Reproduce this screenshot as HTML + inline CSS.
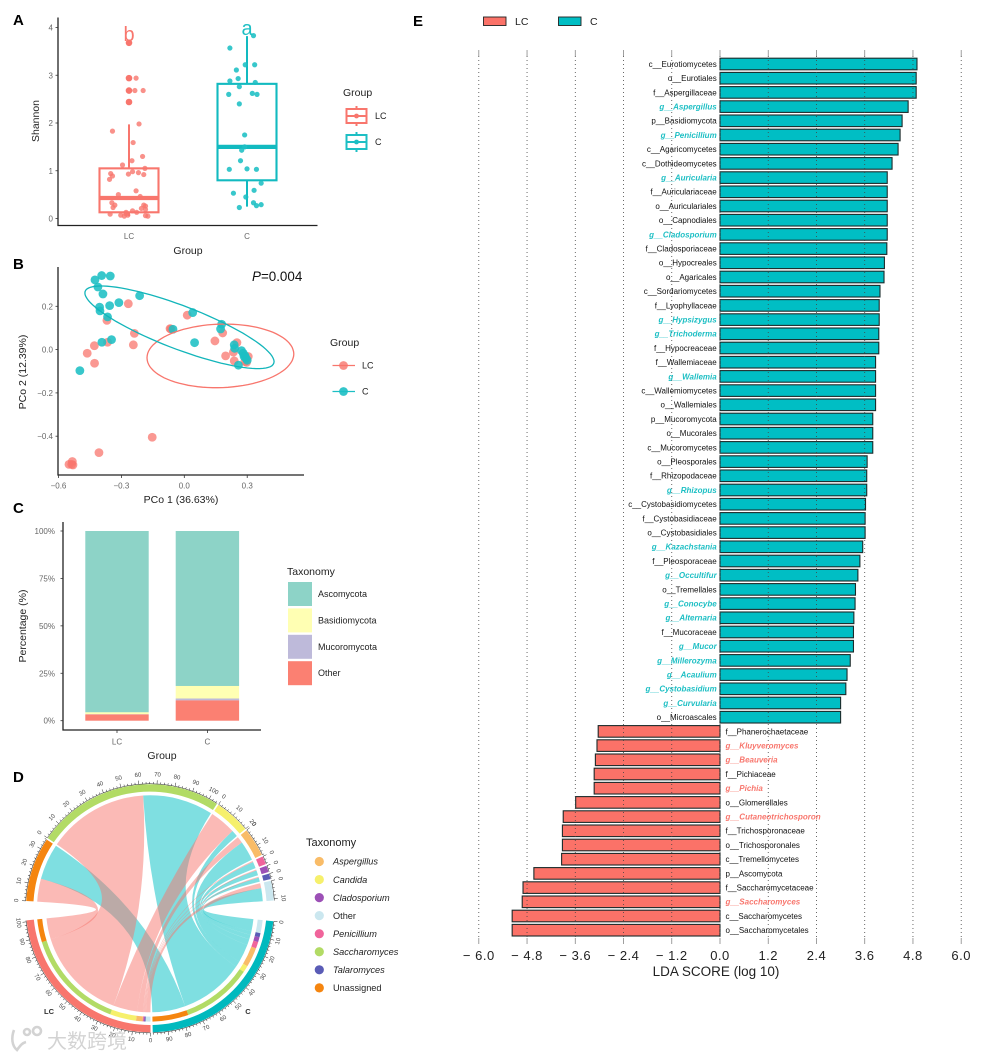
<!DOCTYPE html>
<html lang="en">
<head>
<meta charset="utf-8">
<title>Fungal community composition panels</title>
<style>
  html, body { margin: 0; padding: 0; background: #fff; }
  body { width: 985px; height: 1056px; overflow: hidden; }
  svg { display: block; font-family: "Liberation Sans", "Noto Sans CJK SC", sans-serif; filter: blur(.3px); }
  .panel-letter { font-size: 15px; font-weight: bold; fill: #000; }
  .tick { font-size: 8px; fill: #666; }
  .title { font-size: 10.5px; fill: #222; }
  .legend-title { font-size: 10.5px; fill: #222; }
  .legend-label { font-size: 9px; fill: #222; }
  .axis { stroke: #222; stroke-width: 1.3; fill: none; }
  .axis-tick { stroke: #333; stroke-width: .8; }
</style>
</head>
<body>
<svg id="figure" width="985" height="1056" viewBox="0 0 985 1056" xmlns="http://www.w3.org/2000/svg">
  <text class="panel-letter" x="13" y="25">A</text>
  <text class="panel-letter" x="13" y="269">B</text>
  <text class="panel-letter" x="13" y="513">C</text>
  <text class="panel-letter" x="13" y="782">D</text>
  <text class="panel-letter" x="413" y="26">E</text>

  <!-- Panel A -->
  <g id="panelA">
    <path class="axis" d="M58 17.5V225.5H317.5"/>
    <text class="title" x="188" y="254" text-anchor="middle">Group</text>
    <text class="title" transform="translate(39 121) rotate(-90)" text-anchor="middle">Shannon</text>
    <text x="129" y="41" text-anchor="middle" font-size="20" fill="#F8766D">b</text>
    <text x="247" y="35" text-anchor="middle" font-size="20" fill="#1DBFC4">a</text>
    <g>
      <text class="legend-title" x="343" y="96">Group</text>
      <g fill="none" stroke="#F8766D" stroke-width="2">
        <path d="M356.5 106V109M356.5 123V126"/><rect x="346.5" y="109" width="20" height="14"/><path d="M346.5 116H366.5"/><circle cx="356.5" cy="116" r="2.4" fill="#F8766D" stroke="none"/>
      </g>
      <text class="legend-label" x="375" y="119">LC</text>
      <g fill="none" stroke="#1DBFC4" stroke-width="2">
        <path d="M356.5 132V135M356.5 149V152"/><rect x="346.5" y="135" width="20" height="14"/><path d="M346.5 142H366.5"/><circle cx="356.5" cy="142" r="2.4" fill="#1DBFC4" stroke="none"/>
      </g>
      <text class="legend-label" x="375" y="145">C</text>
    </g>
  </g>

  <!-- Panel B -->
  <g id="panelB">
    <path class="axis" d="M58 267V475H304"/>
    <text class="title" x="181" y="503" text-anchor="middle">PCo 1 (36.63%)</text>
    <text class="title" transform="translate(26 372) rotate(-90)" text-anchor="middle">PCo 2 (12.39%)</text>
    <text x="252" y="281" font-size="13.4" fill="#111"><tspan font-style="italic">P</tspan>=0.004</text>
    <g>
      <text class="legend-title" x="330" y="346">Group</text>
      <path d="M332.5 365.5H355" stroke="#F8766D" stroke-width="1.3"/>
      <circle cx="343.5" cy="365.5" r="4.4" fill="#F8766D" fill-opacity=".8"/>
      <text class="legend-label" x="362" y="368.5">LC</text>
      <path d="M332.5 391.5H355" stroke="#1DBFC4" stroke-width="1.3"/>
      <circle cx="343.5" cy="391.5" r="4.4" fill="#1DBFC4" fill-opacity=".9"/>
      <text class="legend-label" x="362" y="394.5">C</text>
    </g>
  </g>

  <!-- Panel C -->
  <g id="panelC">
    <path class="axis" d="M63 522V730H261"/>
    <text class="title" x="162" y="759" text-anchor="middle">Group</text>
    <text class="title" transform="translate(26 626) rotate(-90)" text-anchor="middle">Percentage (%)</text>
    <g id="phylumLegend">
      <text class="legend-title" x="287" y="575">Taxonomy</text>
    </g>
  </g>

  <!-- Panel D -->
  <g id="panelD">
    <text x="49" y="1014" text-anchor="middle" font-size="7.5" font-weight="bold" fill="#333">LC</text>
    <text x="248" y="1014" text-anchor="middle" font-size="7.5" font-weight="bold" fill="#333">C</text>
    <g id="chordLegend">
      <text x="306" y="846" font-size="11" fill="#222">Taxonomy</text>
    </g>
  </g>

  <!-- Panel E -->
  <g id="panelE">
    <g>
      <rect x="483.5" y="17" width="22.5" height="8.5" fill="#FB7268" stroke="#222" stroke-width=".9"/>
      <text x="515" y="25" font-size="10.5" fill="#222">LC</text>
      <rect x="558.5" y="17" width="22.5" height="8.5" fill="#00BEC4" stroke="#222" stroke-width=".9"/>
      <text x="590" y="25" font-size="10.5" fill="#222">C</text>
    </g>
    <text x="716" y="976" text-anchor="middle" font-size="13.5" fill="#222">LDA SCORE (log 10)</text>
  </g>

  <!-- Watermark -->
  <g opacity=".9">
    <g fill="none" stroke="#cfcfcf" stroke-width="2.6">
      <path d="M14 1030C11 1038 12 1046 17 1050C20 1046 22 1043 26 1042"/>
      <circle cx="27" cy="1032" r="3"/><circle cx="37" cy="1031" r="4"/>
    </g>
    <text x="47" y="1048" font-size="20" fill="#cfcfcf" style="font-family:'Liberation Sans','Noto Sans CJK SC',sans-serif">大数跨境</text>
  </g>
</svg>

<script>
/* ---------- Panel A data ---------- */
const shannonGroups = ['LC', 'C'];
const shannonTicks = [0, 1, 2, 3, 4];
const shannonQ1 = [0.13, 0.80];
const shannonMedian = [0.43, 1.50];
const shannonQ3 = [1.05, 2.82];
const shannonWhiskerLow = [0.05, 0.25];
const shannonWhiskerHigh = [1.97, 3.82];
const lcOutliers = [3.68, 2.94, 2.68, 2.44];
const lcJitter = [0,0,.06,0,.05,.12,0,.085,-.14,.035,.115,.025,-.055,.135,.03,.08,.125,-.005,-.155,-.14,-.165,.06,-.09,.095,-.145,-.12,-.135,.125,.14,.105,.14,.03,.065,-.025,-.07,-.04,-.01,-.16,.14,.16,-.025];
const lcShannon = [3.68,2.94,2.94,2.68,2.68,2.68,2.44,1.98,1.83,1.59,1.3,1.21,1.12,1.05,.98,.96,.92,.93,.94,.89,.82,.58,.5,.46,.33,.28,.23,.28,.26,.21,.19,.16,.13,.13,.07,.05,.07,.09,.06,.05,.1];
const cJitter = [.055,-.145,-.015,.065,-.09,-.075,-.145,.07,-.065,-.155,.045,.085,-.065,-.02,-.02,-.045,-.055,-.15,0,.08,.12,.06,-.115,-.01,.055,.12,.08,-.065];
const cShannon = [3.83,3.57,3.22,3.22,3.11,2.93,2.88,2.85,2.76,2.6,2.62,2.6,2.4,1.75,1.5,1.43,1.21,1.03,1.04,1.03,.74,.59,.53,.45,.33,.29,.27,.23];

/* ---------- Panel B data ---------- */
const pcoaXTicks = [-0.6, -0.3, 0, 0.3];
const pcoaYTicks = [-0.4, -0.2, 0, 0.2];
const lcPco1 = [-.267,.014,-.068,-.238,-.369,-.243,-.366,-.429,-.463,-.428,.183,.146,.251,.234,.197,.238,.305,.289,.297,-.153,-.407,-.55,-.534,-.531,-.537,-.064];
const lcPco2 = [.212,.159,.097,.075,.135,.022,.034,.018,-.017,-.063,.077,.04,.032,-.012,-.029,-.052,-.032,-.055,-.059,-.405,-.476,-.53,-.517,-.533,-.53,.095];
const cPco1 = [-.394,-.353,-.426,-.412,-.388,-.213,-.312,-.356,-.404,-.402,-.366,.04,.178,.173,-.054,.049,-.347,-.393,-.498,.238,.24,.273,.281,.289,.294,.3,.258,.285];
const cPco2 = [.342,.34,.322,.289,.257,.249,.217,.203,.196,.179,.151,.171,.117,.095,.094,.032,.046,.034,-.097,.022,.006,-.005,-.017,-.028,-.04,-.049,-.072,-.032];
const lcEllipse = [0.172, -0.029, 0.350, 0.147, 0.06];   /* mean x, mean y, half-range x, half-range y, correlation */
const cEllipse = [-0.023, 0.103, 0.451, 0.191, -0.83];

/* ---------- Panel C data ---------- */
const phylumGroups = ['LC', 'C'];
const phylumNames = ['Ascomycota', 'Basidiomycota', 'Mucoromycota', 'Other'];
const phylumColors = ['#8DD3C7', '#FFFFB3', '#BEBADA', '#FB8072'];
const phylumTicks = [0, 25, 50, 75, 100];
const lcPhylum = [95.6, 1.0, 0.1, 3.3];
const cPhylum = [81.7, 6.6, 1.0, 10.7];

/* ---------- Panel D data ---------- */
const chordTaxa = ['Unassigned', 'Saccharomyces', 'Candida', 'Aspergillus', 'Penicillium', 'Cladosporium', 'Talaromyces', 'Other'];
const chordColors = ['#F5850F', '#B2DB65', '#F6F06C', '#F9BC68', '#F0649B', '#9C50B6', '#5A5CB6', '#CBE7EF'];
const chordToLC = [14, 62, 16, 4, 0.6, 0.6, 0.6, 3];
const chordToC = [22, 43, 4, 12, 4, 3, 2.5, 8];
const chordLegendOrder = ['Aspergillus', 'Candida', 'Cladosporium', 'Other', 'Penicillium', 'Saccharomyces', 'Talaromyces', 'Unassigned'];

/* ---------- Panel E data ---------- */
const ldaTicks = [-6, -4.8, -3.6, -2.4, -1.2, 0, 1.2, 2.4, 3.6, 4.8, 6];
const ldaTaxa = ['c__Eurotiomycetes','o__Eurotiales','f__Aspergillaceae','g__Aspergillus','p__Basidiomycota','g__Penicillium','c__Agaricomycetes','c__Dothideomycetes','g__Auricularia','f__Auriculariaceae','o__Auriculariales','o__Capnodiales','g__Cladosporium','f__Cladosporiaceae','o__Hypocreales','o__Agaricales','c__Sordariomycetes','f__Lyophyllaceae','g__Hypsizygus','g__Trichoderma','f__Hypocreaceae','f__Wallemiaceae','g__Wallemia','c__Wallemiomycetes','o__Wallemiales','p__Mucoromycota','o__Mucorales','c__Mucoromycetes','o__Pleosporales','f__Rhizopodaceae','g__Rhizopus','c__Cystobasidiomycetes','f__Cystobasidiaceae','o__Cystobasidiales','g__Kazachstania','f__Pleosporaceae','g__Occultifur','o__Tremellales','g__Conocybe','g__Alternaria','f__Mucoraceae','g__Mucor','g__Millerozyma','g__Acaulium','g__Cystobasidium','g__Curvularia','o__Microascales','f__Phanerochaetaceae','g__Kluyveromyces','g__Beauveria','f__Pichiaceae','g__Pichia','o__Glomerellales','g__Cutaneotrichosporon','f__Trichosporonaceae','o__Trichosporonales','c__Tremellomycetes','p__Ascomycota','f__Saccharomycetaceae','g__Saccharomyces','c__Saccharomycetes','o__Saccharomycetales'];
const ldaScores = [4.9,4.88,4.88,4.68,4.53,4.48,4.43,4.28,4.16,4.16,4.16,4.16,4.16,4.15,4.09,4.08,3.98,3.96,3.96,3.95,3.95,3.87,3.87,3.87,3.87,3.8,3.8,3.8,3.66,3.65,3.65,3.62,3.61,3.61,3.55,3.48,3.43,3.37,3.36,3.33,3.32,3.32,3.24,3.16,3.13,3,3,-3.03,-3.06,-3.1,-3.13,-3.13,-3.59,-3.9,-3.92,-3.92,-3.94,-4.63,-4.9,-4.92,-5.17,-5.17];

const SVGNS = 'http://www.w3.org/2000/svg';
const LC_COLOR = '#F8766D';
const C_COLOR = '#1DBFC4';
function add(parent, tag, attrs, text) {
  const el = document.createElementNS(SVGNS, tag);
  for (const k in attrs) el.setAttribute(k, attrs[k]);
  if (text !== undefined) el.textContent = text;
  parent.appendChild(el);
  return el;
}
const slug = s => String(s).toLowerCase().replace(/[^a-z0-9]+/g, '-');

/* ---------- Panel A ---------- */
(function () {
  const g = document.getElementById('panelA');
  const xA = (i, off) => 129 + (i + (off || 0)) * 118;
  const yA = v => 218.5 - v * 47.75;
  const boxHalf = 0.25;
  shannonTicks.forEach(t => {
    const tk = add(g, 'line', { class: 'axis-tick', x1: 55.5, x2: 58, y1: yA(t), y2: yA(t) });
    
    
    const lb = add(g, 'text', { class: 'tick', x: 53, y: yA(t) + 3, 'text-anchor': 'end' }, t);
    
    
  });
  shannonGroups.forEach((name, i) => {
    const color = i === 0 ? LC_COLOR : '#12BAC0';
    const lb = add(g, 'text', { class: 'tick', x: xA(i), y: 239, 'text-anchor': 'middle' }, name);
    
    
    const wh = add(g, 'path', {
      d: 'M' + xA(i) + ' ' + yA(shannonQ3[i]) + 'V' + yA(shannonWhiskerHigh[i]) + 'M' + xA(i) + ' ' + yA(shannonQ1[i]) + 'V' + yA(shannonWhiskerLow[i]),
      stroke: color, 'stroke-width': 2, fill: 'none'
    });
    
    
    const box = add(g, 'rect', {
      x: xA(i, -boxHalf), y: yA(shannonQ3[i]), width: xA(i, boxHalf) - xA(i, -boxHalf),
      height: yA(shannonQ1[i]) - yA(shannonQ3[i]), fill: 'none', stroke: color, 'stroke-width': 2.1
    });
    
    
    const med = add(g, 'line', {
      x1: xA(i, -boxHalf), x2: xA(i, boxHalf), y1: yA(shannonMedian[i]), y2: yA(shannonMedian[i]),
      stroke: color, 'stroke-width': 4.2
    });
    
    
  });
  lcOutliers.forEach(v => {
    const c = add(g, 'circle', { cx: xA(0), cy: yA(v), r: 3.3, fill: LC_COLOR });
    
    
  });
  lcShannon.forEach((v, i) => {
    const c = add(g, 'circle', { cx: xA(0, lcJitter[i]), cy: yA(v), r: 2.6, fill: LC_COLOR, 'fill-opacity': .8 });
    
    
  });
  cShannon.forEach((v, i) => {
    const c = add(g, 'circle', { cx: xA(1, cJitter[i]), cy: yA(v), r: 2.6, fill: C_COLOR, 'fill-opacity': .88 });
    
    
  });
})();

/* ---------- Panel B ---------- */
(function () {
  const g = document.getElementById('panelB');
  const xB = v => 184.3 + v * 209.7;
  const yB = v => 349.6 - v * 216.5;
  const fmt = v => (v < 0 ? '\u2212' : '') + Math.abs(v).toFixed(1);
  pcoaXTicks.forEach(t => {
    const tk = add(g, 'line', { class: 'axis-tick', x1: xB(t), x2: xB(t), y1: 475, y2: 478 });
    
    
    const lb = add(g, 'text', { class: 'tick', x: xB(t), y: 488.5, 'text-anchor': 'middle' }, fmt(t));
    
    
  });
  pcoaYTicks.forEach(t => {
    const tk = add(g, 'line', { class: 'axis-tick', x1: 55.5, x2: 58, y1: yB(t), y2: yB(t) });
    
    
    const lb = add(g, 'text', { class: 'tick', x: 53, y: yB(t) + 3, 'text-anchor': 'end' }, fmt(t));
    
    
  });
  lcPco1.forEach((v, i) => {
    const c = add(g, 'circle', { cx: xB(v), cy: yB(lcPco2[i]), r: 4.4, fill: LC_COLOR, 'fill-opacity': .75 });
    
    
  });
  cPco1.forEach((v, i) => {
    const c = add(g, 'circle', { cx: xB(v), cy: yB(cPco2[i]), r: 4.4, fill: C_COLOR, 'fill-opacity': .88 });
    
    
  });
  function ellipsePath(p) {
    const phi = Math.acos(p[4]);
    let d = '';
    for (let k = 0; k <= 90; k++) {
      const t = k / 90 * 2 * Math.PI;
      d += (k ? 'L' : 'M') + xB(p[0] + p[2] * Math.cos(t)).toFixed(1) + ' ' + yB(p[1] + p[3] * Math.cos(t - phi)).toFixed(1);
    }
    return d + 'Z';
  }
  const e1 = add(g, 'path', { d: ellipsePath(lcEllipse), fill: 'none', stroke: LC_COLOR, 'stroke-width': 1.3 });
  
  
  const e2 = add(g, 'path', { d: ellipsePath(cEllipse), fill: 'none', stroke: '#12B5BA', 'stroke-width': 1.3 });
  
  
})();

/* ---------- Panel C ---------- */
(function () {
  const g = document.getElementById('panelC');
  const xC = i => 117 + i * 90.4;
  const yC = v => 720.7 - v * 1.897;
  const half = 31.7;
  phylumTicks.forEach(t => {
    const tk = add(g, 'line', { class: 'axis-tick', x1: 60.5, x2: 63, y1: yC(t), y2: yC(t) });
    
    
    const lb = add(g, 'text', { class: 'tick', x: 55, y: yC(t) + 3, 'text-anchor': 'end' }, t + '%');
    
    
  });
  phylumGroups.forEach((name, i) => {
    const tk = add(g, 'line', { class: 'axis-tick', x1: xC(i), x2: xC(i), y1: 730, y2: 733 });
    
    
    const lb = add(g, 'text', { class: 'tick', x: xC(i), y: 744.5, 'text-anchor': 'middle' }, name);
    
    
    const vals = i === 0 ? lcPhylum : cPhylum;
    let top = 100;
    vals.forEach((v, j) => {
      const r = add(g, 'rect', { x: xC(i) - half, width: half * 2, y: yC(top), height: yC(top - v) - yC(top), fill: phylumColors[j] });
      
      
      top -= v;
    });
  });
  const leg = document.getElementById('phylumLegend');
  phylumNames.forEach((n, j) => {
    const y = 582 + j * 26.4;
    const r = add(leg, 'rect', { x: 288, y: y, width: 24, height: 24, fill: phylumColors[j] });
    
    
    const t = add(leg, 'text', { class: 'legend-label', x: 318, y: y + 15 }, n);
    
    
  });
})();

/* ---------- Panel D ---------- */
(function () {
  const g = document.getElementById('panelD');
  const cx = 150, cy = 908.3;
  const degPerUnit = 0.84, gapDeg = 0.8;
  const P = (r, deg) => {
    const a = deg * Math.PI / 180;
    return [cx + r * Math.sin(a), cy - r * Math.cos(a)];
  };
  const f = p => p[0].toFixed(2) + ' ' + p[1].toFixed(2);
  function ringSeg(r0, r1, a0, a1) {
    const large = Math.abs(a1 - a0) > 180 ? 1 : 0;
    return 'M' + f(P(r1, a0)) + 'A' + r1 + ' ' + r1 + ' 0 ' + large + ' 1 ' + f(P(r1, a1)) +
           'L' + f(P(r0, a1)) + 'A' + r0 + ' ' + r0 + ' 0 ' + large + ' 0 ' + f(P(r0, a0)) + 'Z';
  }
  const topStart = -86.6;
  const sumArr = a => a.reduce((s, v) => s + v, 0);
  const sectors = [];
  let ang = topStart;
  chordTaxa.forEach((n, i) => {
    const size = chordToLC[i] + chordToC[i];
    sectors.push({ name: n, color: chordColors[i], size: size, a0: ang, a1: ang + size * degPerUnit, i: i });
    ang += size * degPerUnit + gapDeg;
  });
  const cStart = 96;
  const cEnd = cStart + sumArr(chordToC) * degPerUnit;
  const lcStart = cEnd + 1;
  const lcEnd = lcStart + sumArr(chordToLC) * degPerUnit;

  const rTop = 113, rBot = 104;
  const order = chordTaxa.map((_, i) => chordTaxa.length - 1 - i);
  function ribbon(a0, a1, b0, b1) {
    const A0 = P(rTop, a0), A1 = P(rTop, a1), B0 = P(rBot, b0), B1 = P(rBot, b1);
    return 'M' + f(A0) + 'A' + rTop + ' ' + rTop + ' 0 0 1 ' + f(A1) +
      'Q' + cx + ' ' + cy + ' ' + f(B0) +
      'A' + rBot + ' ' + rBot + ' 0 0 1 ' + f(B1) +
      'Q' + cx + ' ' + cy + ' ' + f(A0) + 'Z';
  }
  /* chords to C first, LC over them */
  let bC = cStart;
  const cSegs = [], lcSegs = [];
  order.forEach(i => {
    const s = sectors[i];
    const w = chordToC[i] * degPerUnit;
    cSegs.push({ i: i, b0: bC, b1: bC + w, a0: s.a0 + chordToLC[i] * degPerUnit, a1: s.a1 });
    bC += w;
  });
  let bL = lcStart;
  order.forEach(i => {
    const s = sectors[i];
    const w = chordToLC[i] * degPerUnit;
    lcSegs.push({ i: i, b0: bL, b1: bL + w, a0: s.a0, a1: s.a0 + w });
    bL += w;
  });
  cSegs.forEach(q => {
    const p = add(g, 'path', { d: ribbon(q.a0, q.a1, q.b0, q.b1), fill: '#00BFC4', 'fill-opacity': .5 });
    
    
  });
  lcSegs.forEach(q => {
    const p = add(g, 'path', { d: ribbon(q.a0, q.a1, q.b0, q.b1), fill: LC_COLOR, 'fill-opacity': .5 });
    
    
  });
  /* inner tracks on the two group sectors */
  cSegs.forEach(q => {
    const p = add(g, 'path', { d: ringSeg(108.3, 113.3, q.b0, q.b1), fill: chordColors[q.i] });
    
    
  });
  lcSegs.forEach(q => {
    const p = add(g, 'path', { d: ringSeg(108.3, 113.3, q.b0, q.b1), fill: chordColors[q.i] });
    
    
  });
  /* outer sectors with ticks */
  const outer = sectors.map(s => ({ name: s.name, color: s.color, a0: s.a0, a1: s.a1, size: s.size }));
  outer.push({ name: 'C', color: '#00B9BE', a0: cStart, a1: cEnd, size: sumArr(chordToC) });
  outer.push({ name: 'LC', color: LC_COLOR, a0: lcStart, a1: lcEnd, size: sumArr(chordToLC) });
  outer.forEach(s => {
    const ring = add(g, 'path', { d: ringSeg(116.7, 124, s.a0, s.a1), fill: s.color });
    
    
    const rim = add(g, 'path', {
      d: 'M' + f(P(124.6, s.a0)) + 'A124.6 124.6 0 0 1 ' + f(P(124.6, s.a1)),
      fill: 'none', stroke: '#222', 'stroke-width': .5
    });
    
    
    for (let v = 0; v <= s.size + 0.001; v += 2) {
      const a = s.a0 + v * degPerUnit;
      const major = v % 10 === 0;
      const tk = add(g, 'line', {
        x1: P(124.6, a)[0], y1: P(124.6, a)[1], x2: P(major ? 128.2 : 126.4, a)[0], y2: P(major ? 128.2 : 126.4, a)[1],
        stroke: '#222', 'stroke-width': .5
      });
      
      
      if (major) {
        const pos = P(133, a);
        const norm = ((a % 360) + 360) % 360;
        const rot = norm > 90 && norm < 270 ? a - 180 : a;
        const lb = add(g, 'text', {
          x: 0, y: 0, transform: 'translate(' + pos[0].toFixed(1) + ' ' + pos[1].toFixed(1) + ') rotate(' + rot.toFixed(1) + ')',
          'text-anchor': 'middle', 'dominant-baseline': 'central', 'font-size': 6, fill: '#444'
        }, v);
        
        
      }
    }
  });
  const leg = document.getElementById('chordLegend');
  chordLegendOrder.forEach((n, j) => {
    const y = 861.5 + j * 18.05;
    const color = chordColors[chordTaxa.indexOf(n)];
    const c = add(leg, 'circle', { cx: 319.3, cy: y, r: 4.6, fill: color });
    
    
    const attrs = { x: 333, y: y + 3.2, 'font-size': 9.2, fill: '#222' };
    if (n !== 'Other' && n !== 'Unassigned') attrs['font-style'] = 'italic';
    const t = add(leg, 'text', attrs, n);
    
    
  });
})();

/* ---------- Panel E ---------- */
(function () {
  const g = document.getElementById('panelE');
  const xE = v => 720 + v * 40.2;
  const yE = i => 64 + i * 14.2;
  const barH = 11.6;
  ldaScores.forEach((v, i) => {
    const x0 = Math.min(xE(0), xE(v));
    const r = add(g, 'rect', {
      x: x0, y: yE(i) - barH / 2, width: Math.abs(xE(v) - xE(0)), height: barH,
      fill: v >= 0 ? '#00BEC4' : '#FB7268', stroke: '#1c2b2b', 'stroke-width': 1.1
    });
    
    
  });
  ldaTicks.forEach(t => {
    const line = add(g, 'line', { x1: xE(t), x2: xE(t), y1: 56, y2: 938, stroke: '#444', 'stroke-width': .8, 'stroke-dasharray': '1 3' });
    
    
    const tk = add(g, 'path', { d: 'M' + xE(t) + ' 50V56M' + xE(t) + ' 938V944', stroke: '#888', 'stroke-width': .8 });
    
    
    const label = (t < 0 ? '\u2212 ' : '') + Math.abs(t).toFixed(1);
    const lb = add(g, 'text', { x: xE(t), y: 960, 'text-anchor': 'middle', 'font-size': 13, 'letter-spacing': .5, fill: '#222' }, label);
    
    
  });
  ldaTaxa.forEach((name, i) => {
    const pos = ldaScores[i] >= 0;
    const genus = name.indexOf('g__') === 0;
    const attrs = {
      x: pos ? 716.7 : 725.5, y: yE(i) + 2.9, 'text-anchor': pos ? 'end' : 'start', 'font-size': 8,
      fill: genus ? (pos ? '#1DBFC4' : '#F8766D') : '#111'
    };
    if (genus) { attrs['font-weight'] = 'bold'; attrs['font-style'] = 'italic'; }
    const t = add(g, 'text', attrs, name);
    
    
  });
})();
</script>
</body>
</html>
